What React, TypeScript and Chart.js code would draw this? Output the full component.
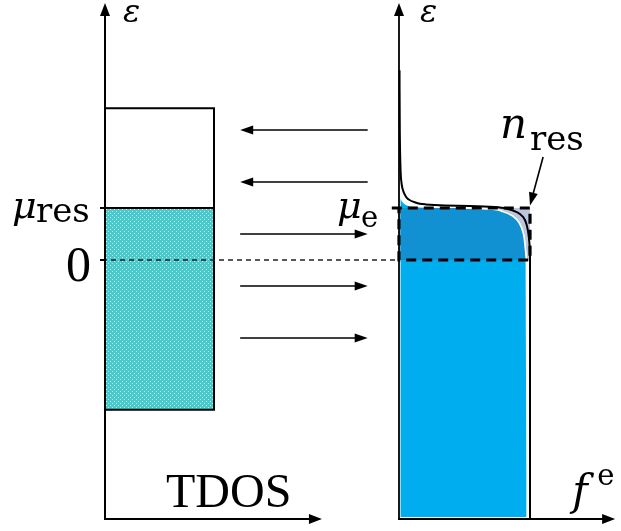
import React, { useEffect, useRef } from 'react';
import { Chart, registerables } from 'chart.js';

Chart.register(...registerables);

// ---- data (energy ε in units of μ, TDOS and f^e in their own units) ----
const E_AXIS = [-4.98, 4.94];
const TDOS_AXIS_END = 1.99;
const FE_AXIS_END = 1.65;
const TDOS_X = [0, 1];
const TDOS_E = [2.92, -2.88];
const MU_RES = 1;
const MU_E = 1;
const ZERO = 0;
const ARROW_E = [2.5, 1.5, 0.5, -0.5, -1.5];
const ARROW_DIR = [-1, -1, 1, 1, 1];
const ARROW_X = [1.24, 2.41];
const FERMI_F = [0.004, 0.006, 0.01, 0.016, 0.026, 0.042, 0.07, 0.12, 0.2, 0.35, 0.54, 0.73, 0.83, 0.9, 0.947, 0.977, 0.992, 1.0, 1.0];
const FERMI_E = [3.65, 2.5, 1.9, 1.55, 1.38, 1.27, 1.17, 1.11, 1.07, 1.05, 1.04, 1.02, 0.98, 0.92, 0.83, 0.65, 0.42, 0.1, -4.98];
const FILL_F = [0.012, 0.04, 0.1, 0.25, 0.45, 0.68, 0.79, 0.87, 0.92, 0.95, 0.963, 0.972, 0.978];
const FILL_E = [1.2, 1.1, 1.04, 1.015, 1.0, 0.98, 0.93, 0.84, 0.7, 0.5, 0.25, 0.0, -4.94];
const BOX_F = [-0.055, 1, 1, 0, 0];
const BOX_E = [MU_E, MU_E, ZERO, ZERO, MU_E];
const NRES_ARROW_F = [1.1, 1.0];
const NRES_ARROW_E = [1.98, 1.05];

const LIGHT_BLUE = '#00AEEF';
const DARK_BLUE = '#1191D1';
const GREY_BLUE = '#BCC7DF';
const TEAL = '#46CACC';

const pts = (xs: number[], ys: number[]) => xs.map((x, i) => ({ x, y: ys[i] }));

function drawArrow(ctx: CanvasRenderingContext2D, x1: number, y1: number, x2: number, y2: number, lw: number, hl: number, hw: number) {
  const dx = x2 - x1, dy = y2 - y1;
  const len = Math.hypot(dx, dy);
  const ux = dx / len, uy = dy / len;
  const bx = x2 - ux * hl, by = y2 - uy * hl;
  ctx.lineWidth = lw;
  ctx.beginPath();
  ctx.moveTo(x1, y1);
  ctx.lineTo(bx + ux, by + uy);
  ctx.stroke();
  ctx.beginPath();
  ctx.moveTo(x2, y2);
  ctx.lineTo(bx - uy * hw, by + ux * hw);
  ctx.lineTo(bx + uy * hw, by - ux * hw);
  ctx.closePath();
  ctx.fill();
}

const annotPlugin = {
  id: 'annot',
  afterDatasetsDraw(chart: any) {
    const { ctx, scales } = chart;
    const X = (v: number) => scales.xl.getPixelForValue(v);
    const R = (v: number) => scales.xr.getPixelForValue(v);
    const Y = (v: number) => scales.y.getPixelForValue(v);
    ctx.save();
    // speckle texture inside the occupied TDOS block
    const x0 = Math.round(X(TDOS_X[0])) + 1, x1 = Math.round(X(TDOS_X[1])) - 1;
    const y0 = Math.round(Y(MU_RES)) + 1, y1 = Math.round(Y(TDOS_E[1])) - 1;
    for (let yy = y0; yy < y1; yy += 2) {
      for (let xx = x0; xx < x1; xx += 2) {
        const a = ((xx - x0) >> 1) % 2, b = ((yy - y0) >> 1) % 2;
        if (a === 0 && b === 0) { ctx.fillStyle = '#ffffff'; ctx.fillRect(xx, yy, 1, 1); }
        else if (a === 1 && b === 1) { ctx.fillStyle = '#a9e9ea'; ctx.fillRect(xx, yy, 1, 1); }
      }
    }
    ctx.strokeStyle = '#000';
    ctx.fillStyle = '#000';
    // zero dashed line across panels
    ctx.lineWidth = 1.3;
    ctx.strokeStyle = '#222';
    ctx.setLineDash([5, 4]);
    ctx.beginPath();
    ctx.moveTo(X(0) - 3, Y(ZERO));
    ctx.lineTo(R(0), Y(ZERO));
    ctx.stroke();
    ctx.setLineDash([]);
    ctx.strokeStyle = '#000';
    // ticks
    ctx.lineWidth = 2;
    [MU_RES, ZERO].forEach((e) => {
      ctx.beginPath();
      ctx.moveTo(X(0) - 5, Y(e));
      ctx.lineTo(X(0), Y(e));
      ctx.stroke();
    });
    // axes
    drawArrow(ctx, X(0), Y(E_AXIS[0]) + 1, X(0), Y(E_AXIS[1]), 2, 13, 5);
    drawArrow(ctx, X(0) - 1, Y(E_AXIS[0]), X(TDOS_AXIS_END), Y(E_AXIS[0]), 2, 13, 5);
    drawArrow(ctx, R(0), Y(E_AXIS[0]) + 1, R(0), Y(E_AXIS[1]), 1.8, 13, 5);
    drawArrow(ctx, R(0) - 1, Y(E_AXIS[0]), R(FE_AXIS_END), Y(E_AXIS[0]), 2, 13, 5);
    // transfer arrows
    ARROW_E.forEach((e, i) => {
      const a = ARROW_DIR[i] < 0 ? ARROW_X[1] : ARROW_X[0];
      const b = ARROW_DIR[i] < 0 ? ARROW_X[0] : ARROW_X[1];
      drawArrow(ctx, X(a), Y(e), X(b), Y(e), 1.6, 13, 4.5);
    });
    // n_res pointer
    drawArrow(ctx, R(NRES_ARROW_F[0]), Y(NRES_ARROW_E[0]), R(NRES_ARROW_F[1]), Y(NRES_ARROW_E[1]), 1.6, 13, 4.5);
    ctx.restore();
  },
  afterDraw(chart: any) {
    const { ctx, scales } = chart;
    const X = (v: number) => scales.xl.getPixelForValue(v);
    const R = (v: number) => scales.xr.getPixelForValue(v);
    const Y = (v: number) => scales.y.getPixelForValue(v);
    ctx.save();
    ctx.fillStyle = '#000';
    ctx.textBaseline = 'alphabetic';
    ctx.textAlign = 'left';
    const it = (s: number) => `italic ${s}px 'DejaVu Serif'`;
    const up = (s: number) => `${s}px 'DejaVu Serif'`;
    const txt = (t: string, f: string, x: number, y: number) => { ctx.font = f; ctx.fillText(t, x, y); };
    // ε labels
    txt('ε', it(32), X(0) + 18, 22);
    txt('ε', it(32), R(0) + 21, 22);
    // μres
    txt('μ', it(38), X(0) - 93, Y(MU_RES) + 10);
    txt('res', up(34), X(0) - 69, Y(MU_RES) + 14);
    // 0
    ctx.textAlign = 'right';
    txt('0', `50px 'Liberation Serif'`, X(0) - 14, Y(ZERO) + 21);
    ctx.textAlign = 'left';
    // TDOS
    txt('TDOS', `48px 'Liberation Serif'`, X(0) + 61, Y(E_AXIS[0]) - 12);
    // μe
    txt('μ', it(38), R(0) - 62, Y(MU_E) + 10);
    txt('e', up(29), R(0) - 38, Y(MU_E) + 19);
    // n_res
    txt('n', it(42), R(0) + 101, 138);
    txt('res', up(34), R(0) + 131, 150);
    // f^e
    txt('f', it(42), R(FE_AXIS_END) - 43, Y(E_AXIS[0]) - 14);
    txt('e', up(29), R(FE_AXIS_END) - 18, Y(E_AXIS[0]) - 34);
    ctx.restore();
  },
};

export default function App() {
  const ref = useRef<HTMLCanvasElement>(null);
  useEffect(() => {
    document.body.style.margin = '0';
    const canvas = ref.current!;
    const darkIdx = FILL_E.map((e, i) => i).filter((i) => FILL_E[i] <= MU_E && FILL_E[i] >= ZERO);
    const clear = 'rgba(0,0,0,0)';

    const chart = new Chart(canvas, {
      type: 'line',
      data: {
        datasets: [
          {
            label: 'box-fill', xAxisID: 'xr', yAxisID: 'y', order: 10,
            data: pts([0, 1], [MU_E, MU_E]),
            fill: { value: ZERO }, backgroundColor: GREY_BLUE, borderColor: clear, borderWidth: 0, tension: 0,
          },
          {
            label: 'occupied', xAxisID: 'xr', yAxisID: 'y', order: 9, indexAxis: 'y',
            data: pts(FILL_F, FILL_E),
            fill: { value: 0.012 }, backgroundColor: LIGHT_BLUE, borderColor: '#ffffff', borderWidth: 1.5,
            cubicInterpolationMode: 'monotone',
          },
          {
            label: 'nres', xAxisID: 'xr', yAxisID: 'y', order: 8, indexAxis: 'y',
            data: darkIdx.map((i) => ({ x: FILL_F[i], y: FILL_E[i] })),
            fill: { value: 0.012 }, backgroundColor: DARK_BLUE, borderColor: '#ffffff', borderWidth: 1.5,
            cubicInterpolationMode: 'monotone',
          },
          {
            label: 'fermi', xAxisID: 'xr', yAxisID: 'y', order: 7, indexAxis: 'y',
            data: pts(FERMI_F, FERMI_E),
            fill: false, borderColor: '#000', borderWidth: 2, cubicInterpolationMode: 'monotone',
          },
          {
            label: 'dash-box', xAxisID: 'xr', yAxisID: 'y', order: 6,
            data: pts(BOX_F, BOX_E),
            fill: false, borderColor: '#000', borderWidth: 3.2, borderDash: [10, 6], tension: 0,
          },
          {
            label: 'tdos-fill', xAxisID: 'xl', yAxisID: 'y', order: 5,
            data: pts(TDOS_X, [MU_RES, MU_RES]),
            fill: { value: TDOS_E[1] }, backgroundColor: TEAL, borderColor: '#000', borderWidth: 2, tension: 0,
          },
          {
            label: 'tdos-box', xAxisID: 'xl', yAxisID: 'y', order: 4,
            data: pts([TDOS_X[0], TDOS_X[1], TDOS_X[1], TDOS_X[0]], [TDOS_E[0], TDOS_E[0], TDOS_E[1], TDOS_E[1]]),
            fill: false, borderColor: '#000', borderWidth: 2, tension: 0,
          },
        ] as any,
      },
      options: {
        animation: false,
        responsive: false,
        devicePixelRatio: 1,
        events: [],
        layout: { padding: 0 },
        elements: { point: { radius: 0 } },
        plugins: { legend: { display: false }, tooltip: { enabled: false } },
        scales: {
          xl: { type: 'linear', axis: 'x', display: false, min: -105 / 109, max: 516 / 109 },
          xr: { type: 'linear', axis: 'x', display: false, min: -399 / 131, max: 222 / 131 },
          y: { type: 'linear', display: false, min: -271 / 52, max: 260 / 52 },
        } as any,
      },
      plugins: [annotPlugin],
    });
    return () => chart.destroy();
  }, []);
  return <canvas ref={ref} width={621} height={531} style={{ display: 'block' }} />;
}
